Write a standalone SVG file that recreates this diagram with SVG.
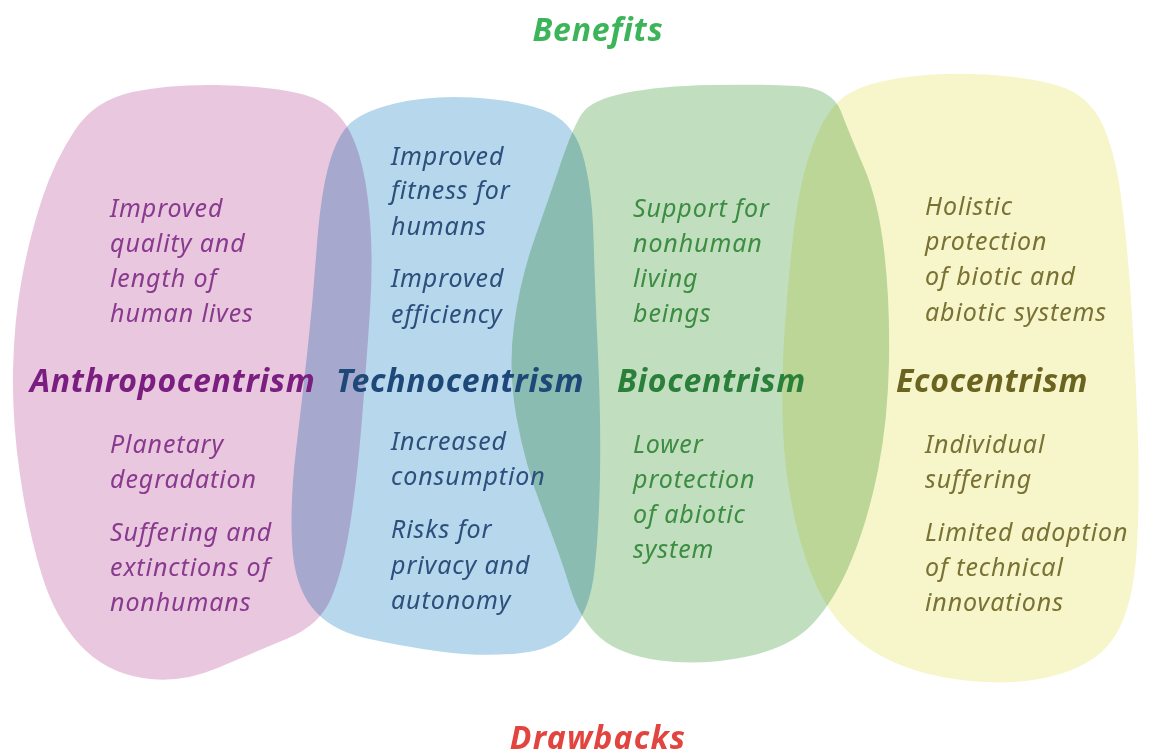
<svg xmlns="http://www.w3.org/2000/svg" width="1154" height="756" viewBox="0 0 1154 756">
<style>
.blob{mix-blend-mode:multiply}
text{font-family:"Noto Sans","DejaVu Sans",sans-serif;font-style:italic}
.item{font-size:25px;letter-spacing:0.9px}
.head{font-size:32px;font-weight:bold;letter-spacing:0.7px}
.pk{fill:#8a3a8e}.pkh{fill:#7a1f80}
.bl{fill:#2c4f7c}.blh{fill:#1d4878}
.gr{fill:#3c8c42}.grh{fill:#2a7f3a}
.yl{fill:#7a7234}.ylh{fill:#6a6420}
</style>
<rect width="1154" height="756" fill="#ffffff"/>
<g id="blobs">
<path id="anthropo-blob" class="blob" fill="#e9c8df" d="M75,130 Q95,100 132.5,92 Q170,84 217.5,85 Q265,86 297.5,93 Q330,100 346,125 Q362,150 368,200 Q374,250 370,310 Q366,370 361.5,425 Q357,480 350,525 Q343,570 331.5,597.5 Q320,625 287.5,638.5 Q255,652 217.5,668 Q180,684 142.5,678 Q105,672 80,645 Q55,618 41.5,574 Q28,530 20,475 Q12,420 13,370 Q14,320 22,277.5 Q30,235 42.5,197.5 Q55,160 75,130 Z"/>
<path id="techno-blob" class="blob" fill="#b7d7ec" d="M347.5,126 Q360,112 395,103.5 Q430,95 472.5,97.5 Q515,100 543.5,110 Q572,120 582,152.5 Q592,185 593.5,237.5 Q595,290 598,355 Q601,420 600,475 Q599,530 594.5,570 Q590,610 572.5,630 Q555,650 517.5,653.5 Q480,657 440,651.5 Q400,646 365,638 Q330,630 312,607.5 Q294,585 292,542.5 Q290,500 296,450 Q302,400 307.5,350 Q313,300 316.5,250 Q320,200 327.5,170 Q335,140 347.5,126 Z"/>
<path id="bio-blob" class="blob" fill="#c1dfbf" d="M581,115 Q590,100 625,93 Q660,86 710,85 Q760,84 796,86 Q832,88 841,111.5 Q850,135 864,167.5 Q878,200 884,250 Q890,300 889,360 Q888,420 878,470 Q868,520 851.5,560 Q835,600 812.5,624 Q790,648 745,657 Q700,666 660,660.5 Q620,655 600,637.5 Q580,620 570,587.5 Q560,555 542.5,510 Q525,465 516.5,417.5 Q508,370 514,325 Q520,280 535,237.5 Q550,195 561,162.5 Q572,130 581,115 Z"/>
<path id="eco-blob" class="blob" fill="#f7f5ca" d="M842.5,98 Q860,84 900,78 Q940,72 985,74.5 Q1030,77 1059,86 Q1088,95 1101.5,122.5 Q1115,150 1121.5,200 Q1128,250 1132,315 Q1136,380 1138,440 Q1140,500 1136.5,552.5 Q1133,605 1116.5,633.5 Q1100,662 1060,674 Q1020,686 970,681 Q920,676 885,658 Q850,640 830,610 Q810,580 797.5,530 Q785,480 783,430 Q781,380 785,325 Q789,270 794.5,225 Q800,180 812.5,146 Q825,112 842.5,98 Z"/>
</g>
<g id="connectors"></g>
<g id="title-benefits"><text x="598" y="41" text-anchor="middle" font-size="32" font-weight="bold" letter-spacing="0.8" fill="#3cb55a">Benefits</text></g>
<g id="title-drawbacks"><text x="598" y="749" text-anchor="middle" font-size="32" font-weight="bold" letter-spacing="1.2" fill="#e2453f">Drawbacks</text></g>
<g id="anthropocentrism">
<text class="head pkh" x="30" y="392">Anthropocentrism</text>
<text class="item pk" x="110" y="217">Improved</text>
<text class="item pk" x="110" y="252">quality and</text>
<text class="item pk" x="110" y="287">length of</text>
<text class="item pk" x="110" y="322">human lives</text>
<text class="item pk" x="110" y="453">Planetary</text>
<text class="item pk" x="110" y="488">degradation</text>
<text class="item pk" x="110" y="541">Suffering and</text>
<text class="item pk" x="110" y="576">extinctions of</text>
<text class="item pk" x="110" y="611">nonhumans</text>
</g>
<g id="technocentrism">
<text class="head blh" x="336" y="392">Technocentrism</text>
<text class="item bl" x="391" y="165">Improved</text>
<text class="item bl" x="391" y="199">fitness for</text>
<text class="item bl" x="391" y="235">humans</text>
<text class="item bl" x="391" y="287">Improved</text>
<text class="item bl" x="391" y="323">efficiency</text>
<text class="item bl" x="391" y="450">Increased</text>
<text class="item bl" x="391" y="485">consumption</text>
<text class="item bl" x="391" y="538">Risks for</text>
<text class="item bl" x="391" y="574">privacy and</text>
<text class="item bl" x="391" y="609">autonomy</text>
</g>
<g id="biocentrism">
<text class="head grh" x="617" y="392">Biocentrism</text>
<text class="item gr" x="633" y="217">Support for</text>
<text class="item gr" x="633" y="252">nonhuman</text>
<text class="item gr" x="633" y="287">living</text>
<text class="item gr" x="633" y="322">beings</text>
<text class="item gr" x="633" y="453">Lower</text>
<text class="item gr" x="633" y="488">protection</text>
<text class="item gr" x="633" y="523">of abiotic</text>
<text class="item gr" x="633" y="558">system</text>
</g>
<g id="ecocentrism">
<text class="head ylh" x="896" y="392">Ecocentrism</text>
<text class="item yl" x="925" y="215">Holistic</text>
<text class="item yl" x="925" y="250">protection</text>
<text class="item yl" x="925" y="285">of biotic and</text>
<text class="item yl" x="925" y="321">abiotic systems</text>
<text class="item yl" x="925" y="453">Individual</text>
<text class="item yl" x="925" y="488">suffering</text>
<text class="item yl" x="925" y="541">Limited adoption</text>
<text class="item yl" x="925" y="576">of technical</text>
<text class="item yl" x="925" y="611">innovations</text>
</g>
</svg>
